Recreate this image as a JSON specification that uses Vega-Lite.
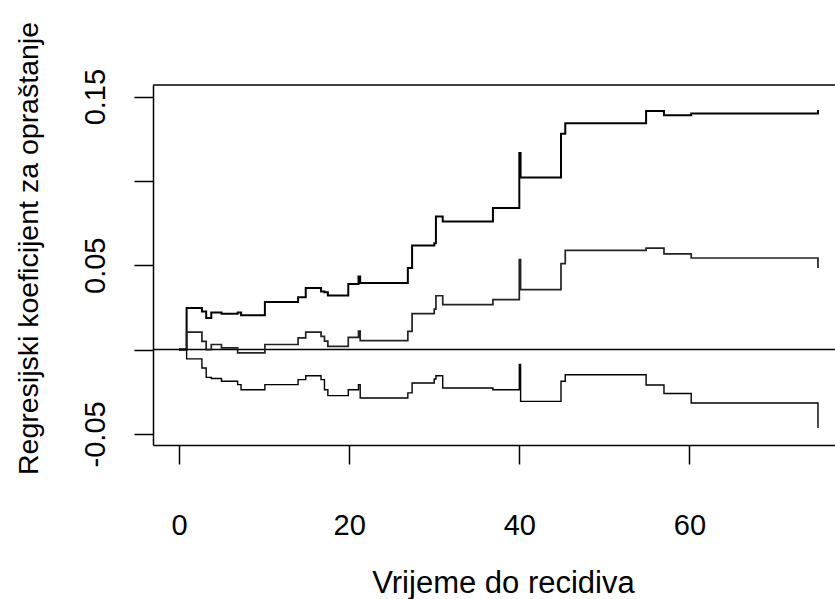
{
  "$schema": "https://vega.github.io/schema/vega-lite/v6.json",
  "autosize": {"type": "none"},
  "padding": {"left": 153, "top": 85, "right": 0, "bottom": 154},
  "width": 682,
  "height": 360,
  "background": "white",
  "config": {
    "view": {"stroke": null},
    "font": "Liberation Sans",
    "axis": {"labelFont": "Liberation Sans", "titleFont": "Liberation Sans", "labelColor": "#000", "titleColor": "#000", "titleFontWeight": "normal", "domainColor": "#000", "tickColor": "#000", "domainWidth": 1.5, "tickWidth": 1.5, "grid": false}
  },
  "datasets": {
    "curves": [
      {"t": 0, "v": 0, "s": "U"}, {"t": 0.9, "v": 0.0246, "s": "U"}, {"t": 2.7, "v": 0.0226, "s": "U"}, {"t": 3.2, "v": 0.0187, "s": "U"}, {"t": 3.8, "v": 0.022, "s": "U"}, {"t": 5.0, "v": 0.0213, "s": "U"}, {"t": 6.9, "v": 0.022, "s": "U"}, {"t": 7.3, "v": 0.0203, "s": "U"}, {"t": 10.1, "v": 0.0282, "s": "U"}, {"t": 14.0, "v": 0.031, "s": "U"}, {"t": 14.9, "v": 0.0365, "s": "U"}, {"t": 16.7, "v": 0.0345, "s": "U"}, {"t": 17.1, "v": 0.034, "s": "U"}, {"t": 17.5, "v": 0.032, "s": "U"}, {"t": 19.9, "v": 0.0389, "s": "U"}, {"t": 21.1, "v": 0.0434, "s": "U"}, {"t": 21.3, "v": 0.0395, "s": "U"}, {"t": 26.9, "v": 0.0483, "s": "U"}, {"t": 27.4, "v": 0.0617, "s": "U"}, {"t": 30.0, "v": 0.063, "s": "U"}, {"t": 30.2, "v": 0.0789, "s": "U"}, {"t": 31.0, "v": 0.076, "s": "U"}, {"t": 36.9, "v": 0.0839, "s": "U"}, {"t": 40.0, "v": 0.1165, "s": "U"}, {"t": 40.15, "v": 0.102, "s": "U"}, {"t": 44.9, "v": 0.128, "s": "U"}, {"t": 45.4, "v": 0.1342, "s": "U"}, {"t": 54.9, "v": 0.1415, "s": "U"}, {"t": 57.0, "v": 0.139, "s": "U"}, {"t": 60.2, "v": 0.140, "s": "U"}, {"t": 75.1, "v": 0.142, "s": "U"},
      {"t": 0, "v": 0, "s": "M"}, {"t": 0.9, "v": 0.0104, "s": "M"}, {"t": 2.7, "v": 0.0049, "s": "M"}, {"t": 3.2, "v": 0.0, "s": "M"}, {"t": 3.8, "v": 0.003, "s": "M"}, {"t": 5.0, "v": 0.001, "s": "M"}, {"t": 6.9, "v": -0.002, "s": "M"}, {"t": 7.3, "v": -0.002, "s": "M"}, {"t": 10.1, "v": 0.003, "s": "M"}, {"t": 14.0, "v": 0.0069, "s": "M"}, {"t": 14.9, "v": 0.0104, "s": "M"}, {"t": 16.7, "v": 0.0078, "s": "M"}, {"t": 17.1, "v": 0.005, "s": "M"}, {"t": 17.5, "v": 0.0019, "s": "M"}, {"t": 19.9, "v": 0.0072, "s": "M"}, {"t": 21.1, "v": 0.011, "s": "M"}, {"t": 21.3, "v": 0.0053, "s": "M"}, {"t": 26.9, "v": 0.0108, "s": "M"}, {"t": 27.4, "v": 0.0213, "s": "M"}, {"t": 30.0, "v": 0.024, "s": "M"}, {"t": 30.2, "v": 0.0319, "s": "M"}, {"t": 31.0, "v": 0.0266, "s": "M"}, {"t": 36.9, "v": 0.0296, "s": "M"}, {"t": 40.0, "v": 0.0533, "s": "M"}, {"t": 40.15, "v": 0.0355, "s": "M"}, {"t": 44.9, "v": 0.051, "s": "M"}, {"t": 45.4, "v": 0.0588, "s": "M"}, {"t": 54.9, "v": 0.0602, "s": "M"}, {"t": 57.0, "v": 0.0568, "s": "M"}, {"t": 60.2, "v": 0.0543, "s": "M"}, {"t": 75.1, "v": 0.0483, "s": "M"},
      {"t": 0, "v": 0, "s": "L"}, {"t": 0.9, "v": -0.0055, "s": "L"}, {"t": 2.7, "v": -0.0109, "s": "L"}, {"t": 3.2, "v": -0.0165, "s": "L"}, {"t": 3.8, "v": -0.0172, "s": "L"}, {"t": 5.0, "v": -0.0188, "s": "L"}, {"t": 6.9, "v": -0.0208, "s": "L"}, {"t": 7.3, "v": -0.0238, "s": "L"}, {"t": 10.1, "v": -0.0208, "s": "L"}, {"t": 14.0, "v": -0.0178, "s": "L"}, {"t": 14.9, "v": -0.0155, "s": "L"}, {"t": 16.7, "v": -0.0178, "s": "L"}, {"t": 17.1, "v": -0.0238, "s": "L"}, {"t": 17.5, "v": -0.0273, "s": "L"}, {"t": 19.9, "v": -0.0238, "s": "L"}, {"t": 21.1, "v": -0.0208, "s": "L"}, {"t": 21.3, "v": -0.0287, "s": "L"}, {"t": 26.9, "v": -0.0257, "s": "L"}, {"t": 27.4, "v": -0.0198, "s": "L"}, {"t": 30.0, "v": -0.0175, "s": "L"}, {"t": 30.2, "v": -0.0155, "s": "L"}, {"t": 31.0, "v": -0.0228, "s": "L"}, {"t": 36.9, "v": -0.0238, "s": "L"}, {"t": 40.0, "v": -0.0089, "s": "L"}, {"t": 40.15, "v": -0.0307, "s": "L"}, {"t": 44.9, "v": -0.0188, "s": "L"}, {"t": 45.4, "v": -0.0149, "s": "L"}, {"t": 54.9, "v": -0.021, "s": "L"}, {"t": 57.0, "v": -0.0261, "s": "L"}, {"t": 60.2, "v": -0.0317, "s": "L"}, {"t": 75.1, "v": -0.0465, "s": "L"}
    ]
  },
  "layer": [
    {
      "data": {"values": [{"h": 0}]},
      "mark": {"type": "rule", "color": "#000", "strokeWidth": 1.5},
      "encoding": {
        "y": {"field": "h", "type": "quantitative"}
      }
    },
    {
      "data": {"name": "curves"},
      "mark": {"type": "line", "interpolate": "step-after", "clip": true},
      "encoding": {
        "x": {
          "field": "t", "type": "quantitative",
          "scale": {"domain": [-3.05, 77.1], "nice": false, "zero": false},
          "axis": {"orient": "bottom", "values": [0, 20, 40, 60], "tickSize": 19, "labelFontSize": 29, "labelPadding": 70, "labelBaseline": "alphabetic", "labelFlush": false, "title": "Vrijeme do recidiva", "titleFontSize": 31, "titleX": 350, "titleY": 147, "titleBaseline": "alphabetic", "titleAnchor": "middle"}
        },
        "y": {
          "field": "v", "type": "quantitative",
          "scale": {"domain": [-0.0566, 0.1569], "nice": false, "zero": false},
          "axis": {
            "values": [-0.05, 0, 0.05, 0.1, 0.15],
            "tickSize": 19,
            "labelFontSize": 29,
            "labelAngle": -90,
            "labelAlign": "center",
            "labelBaseline": "alphabetic",
            "labelPadding": 30,
            "labelFlush": false,
            "labelExpr": "abs(datum.value - 0.15) < 1e-6 ? '0.15' : abs(datum.value - 0.05) < 1e-6 ? '0.05' : abs(datum.value + 0.05) < 1e-6 ? '-0.05' : ''",
            "title": "Regresijski koeficijent za opraštanje",
            "titleFontSize": 28.5,
            "titleAngle": -90,
            "titleBaseline": "alphabetic",
            "titleX": -116,
            "titleY": 163,
            "titleAnchor": "middle"
          }
        },
        "color": {"field": "s", "type": "nominal", "scale": {"domain": ["U", "M", "L"], "range": ["#000000", "#222222", "#000000"]}, "legend": null},
        "strokeWidth": {"field": "s", "type": "nominal", "scale": {"domain": ["U", "M", "L"], "range": [2, 1.4, 2]}, "legend": null}
      }
    },
    {
      "data": {"values": [{"h": 0.1569}]},
      "mark": {"type": "rule", "color": "#000", "strokeWidth": 1.5},
      "encoding": {
        "y": {"field": "h", "type": "quantitative"}
      }
    }
  ]
}
